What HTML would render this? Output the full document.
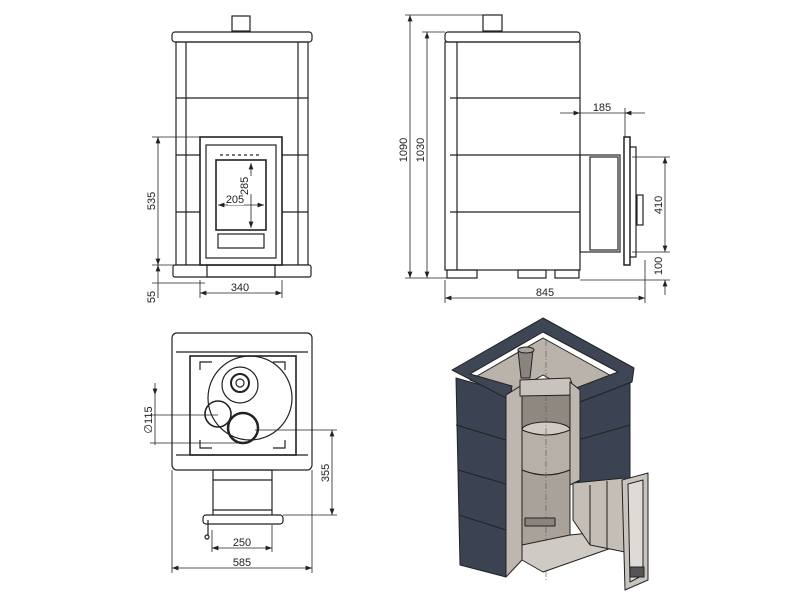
<!DOCTYPE html>
<html><head><style>body{margin:0;background:#fff}svg{display:block}text{font-family:"Liberation Sans",sans-serif;font-size:11px;fill:#222}</style></head><body>
<svg width="800" height="600" viewBox="0 0 800 600" xmlns="http://www.w3.org/2000/svg">
<defs><marker id="a" markerWidth="8" markerHeight="6" refX="8" refY="3" orient="auto-start-reverse"><path d="M0,0L8,3L0,6z" fill="#222"/></marker></defs>
<g fill="none" stroke="#222" stroke-width="1.2">
<rect x="232" y="16" width="18" height="15" fill="#fff"/>
<rect x="172" y="32" width="140" height="10" rx="3" fill="#fff"/>
<rect x="176" y="42" width="132" height="223"/>
<line x1="186" y1="42" x2="186" y2="265"/><line x1="298" y1="42" x2="298" y2="265"/>
<line x1="176" y1="98" x2="308" y2="98"/>
<line x1="176" y1="155" x2="200" y2="155"/><line x1="282" y1="155" x2="308" y2="155"/>
<line x1="176" y1="212" x2="200" y2="212"/><line x1="282" y1="212" x2="308" y2="212"/>
<rect x="173" y="265" width="138" height="12" rx="2" fill="#fff"/>
<rect x="200" y="137" width="82" height="128" stroke-width="1.6" fill="#fff"/>
<rect x="206" y="145" width="70" height="113"/>
<rect x="216" y="160" width="50" height="70" stroke-width="1.6"/>
<rect x="218" y="234" width="46" height="14"/>
<rect x="207" y="265" width="68" height="12"/>
<line x1="220" y1="155" x2="262" y2="155" stroke-dasharray="3,3"/>
<rect x="483" y="15" width="19" height="16" fill="#fff"/>
<rect x="445" y="32" width="135" height="10" rx="3" fill="#fff"/>
<rect x="445" y="42" width="135" height="228"/>
<line x1="457" y1="42" x2="457" y2="270"/>
<line x1="450" y1="98" x2="580" y2="98"/><line x1="450" y1="155" x2="580" y2="155"/><line x1="450" y1="212" x2="580" y2="212"/>
<rect x="447" y="270" width="30" height="8"/><rect x="518" y="270" width="28" height="8"/><rect x="555" y="270" width="24" height="8"/>
<rect x="580" y="155" width="40" height="97"/>
<rect x="590" y="157" width="28" height="93"/>
<rect x="624" y="137" width="6" height="128" fill="#fff" stroke-width="1.5"/>
<path d="M630,147 h6 v110 h-6"/><rect x="637" y="195" width="6" height="30"/>
<rect x="172" y="333" width="140" height="137" rx="5"/>
<line x1="176" y1="352" x2="308" y2="352"/><line x1="176" y1="455" x2="308" y2="455"/>
<rect x="190" y="356" width="106" height="99" stroke-width="1.6"/>
<circle cx="250" cy="398" r="42"/>
<circle cx="240" cy="385" r="18"/><circle cx="240" cy="383" r="9" stroke-width="2"/><circle cx="240" cy="383" r="4"/>
<circle cx="218" cy="414" r="13" stroke-width="1.6"/>
<circle cx="243" cy="428" r="15" stroke-width="2.5"/>
<path d="M200,370 v-8 h12 M285,370 v-8 h-12 M200,440 v8 h12 M285,440 v8 h-12"/>
<rect x="213" y="470" width="59" height="46"/>
<line x1="213" y1="480" x2="272" y2="480"/><line x1="213" y1="510" x2="272" y2="510"/>
<rect x="203" y="515" width="80" height="9" rx="3" fill="#fff"/>
<line x1="208" y1="520" x2="208" y2="535"/><circle cx="207" cy="537" r="2"/>
</g>
<!-- ISO VIEW -->
<g stroke="#222" stroke-width="1" stroke-linejoin="round">
<polygon points="470,380 543,338 615,378 578,395 543,375 508,395" fill="#b9b3ac"/>
<polygon points="456,378 506,392 506,577 460,565" fill="#3b4352"/>
<line x1="456" y1="425" x2="506" y2="440"/><line x1="458" y1="470" x2="506" y2="484"/><line x1="459" y1="515" x2="506" y2="530"/>
<polygon points="578,393 630,374 630,478 578,490" fill="#3b4352"/>
<line x1="578" y1="440" x2="630" y2="425"/>
<polygon points="452,370 543,318 634,368 632,382 580,402 576,388 618,372 543,332 470,374 512,386 510,400" fill="#3e4655"/>
<polygon points="506,395 522,385 522,560 506,577" fill="#bdb7b0"/>
<path d="M522,382 L522,470 Q546,480 570,470 L570,382 Z" fill="#8f8881"/>
<ellipse cx="546" cy="430" rx="24" ry="8" fill="#cfcac4"/>
<path d="M522,430 Q546,440 570,430 L570,470 Q546,480 522,470 Z" fill="#b6b0a8"/>
<path d="M522,470 Q546,480 570,470 L570,540 L522,545 Z" fill="#a8a29b"/>
<line x1="546" y1="340" x2="546" y2="580" stroke="#555" stroke-width=".6" stroke-dasharray="6,2,1,2"/>
<polygon points="518,350 533,350 530,378 521,378" fill="#8a847e"/>
<ellipse cx="526" cy="350" rx="8" ry="3" fill="#a9a39c"/>
<polygon points="520,380 570,378 576,395 520,396" fill="#c8c3bd"/>
<polygon points="570,382 580,390 580,480 570,485" fill="#bdb7b0"/>
<polygon points="522,545 570,535 620,530 620,545 543,572 522,560" fill="#cfcac4"/>
<rect x="525" y="518" width="30" height="8" fill="#8a847e"/>
<polygon points="573,483 625,478 625,552 590,545 573,520" fill="#c4beb7"/>
<line x1="590" y1="485" x2="590" y2="545"/><line x1="607" y1="481" x2="607" y2="548"/>
<polygon points="622,480 648,473 648,580 625,590" fill="#c8c3bd"/>
<polygon points="628,484 643,480 643,575 630,582" fill="#dedad6"/>
<rect x="630" y="567" width="14" height="10" fill="#555"/>
</g>
<g stroke="#222" stroke-width=".8" fill="none">
<line x1="158" y1="137" x2="158" y2="265" marker-start="url(#a)" marker-end="url(#a)"/>
<line x1="152" y1="137" x2="200" y2="137"/><line x1="152" y1="265" x2="200" y2="265"/><line x1="152" y1="283" x2="205" y2="283"/>
<line x1="158" y1="265" x2="158" y2="298" marker-start="url(#a)"/>
<line x1="200" y1="280" x2="200" y2="298"/><line x1="282" y1="280" x2="282" y2="298"/>
<line x1="200" y1="293" x2="282" y2="293" marker-start="url(#a)" marker-end="url(#a)"/>
<line x1="251" y1="163" x2="251" y2="228" marker-start="url(#a)" marker-end="url(#a)"/>
<line x1="218" y1="205" x2="264" y2="205" marker-start="url(#a)" marker-end="url(#a)"/>
<line x1="410" y1="15" x2="410" y2="278" marker-start="url(#a)" marker-end="url(#a)"/>
<line x1="427" y1="32" x2="427" y2="278" marker-start="url(#a)" marker-end="url(#a)"/>
<line x1="405" y1="15" x2="483" y2="15"/><line x1="422" y1="32" x2="445" y2="32"/><line x1="405" y1="278" x2="447" y2="278"/>
<line x1="560" y1="113" x2="580" y2="113" marker-end="url(#a)"/><line x1="580" y1="113" x2="625" y2="113"/><line x1="625" y1="113" x2="645" y2="113" marker-start="url(#a)"/>
<line x1="625" y1="108" x2="625" y2="137"/>
<line x1="665" y1="157" x2="665" y2="252" marker-start="url(#a)" marker-end="url(#a)"/>
<line x1="632" y1="157" x2="670" y2="157"/><line x1="632" y1="252" x2="670" y2="252"/><line x1="580" y1="280" x2="670" y2="280"/>
<line x1="665" y1="280" x2="665" y2="295" marker-start="url(#a)"/>
<line x1="445" y1="280" x2="445" y2="303"/><line x1="645" y1="260" x2="645" y2="303"/>
<line x1="445" y1="298" x2="645" y2="298" marker-start="url(#a)" marker-end="url(#a)"/>
<line x1="155" y1="383" x2="155" y2="395" marker-end="url(#a)"/>
<line x1="155" y1="395" x2="155" y2="445"/><line x1="150" y1="415" x2="218" y2="415"/><line x1="150" y1="443" x2="243" y2="443"/>
<line x1="332" y1="430" x2="332" y2="515" marker-start="url(#a)" marker-end="url(#a)"/>
<line x1="255" y1="430" x2="337" y2="430"/><line x1="283" y1="515" x2="337" y2="515"/>
<line x1="212" y1="530" x2="212" y2="552"/><line x1="272" y1="525" x2="272" y2="552"/>
<line x1="212" y1="548" x2="272" y2="548" marker-start="url(#a)" marker-end="url(#a)"/>
<line x1="172" y1="470" x2="172" y2="573"/><line x1="312" y1="470" x2="312" y2="573"/>
<line x1="172" y1="568" x2="312" y2="568" marker-start="url(#a)" marker-end="url(#a)"/>
</g>
<rect x="228" y="193" width="16" height="12" fill="#fff"/>
<rect x="243" y="176" width="10" height="18" fill="#fff"/>
<text x="240" y="291" text-anchor="middle">340</text>
<text x="235" y="203" text-anchor="middle">205</text>
<text transform="translate(248,186) rotate(-90)" text-anchor="middle">285</text>
<text transform="translate(155,201) rotate(-90)" text-anchor="middle">535</text>
<text transform="translate(155,297) rotate(-90)" text-anchor="middle">55</text>
<text transform="translate(407,150) rotate(-90)" text-anchor="middle">1090</text>
<text transform="translate(424,150) rotate(-90)" text-anchor="middle">1030</text>
<text x="602" y="111" text-anchor="middle">185</text>
<text transform="translate(662,205) rotate(-90)" text-anchor="middle">410</text>
<text transform="translate(662,266) rotate(-90)" text-anchor="middle">100</text>
<text x="545" y="296" text-anchor="middle">845</text>
<text transform="translate(152,420) rotate(-90)" text-anchor="middle">∅115</text>
<text transform="translate(329,473) rotate(-90)" text-anchor="middle">355</text>
<text x="242" y="546" text-anchor="middle">250</text>
<text x="242" y="566" text-anchor="middle">585</text>
</svg>
</body></html>
